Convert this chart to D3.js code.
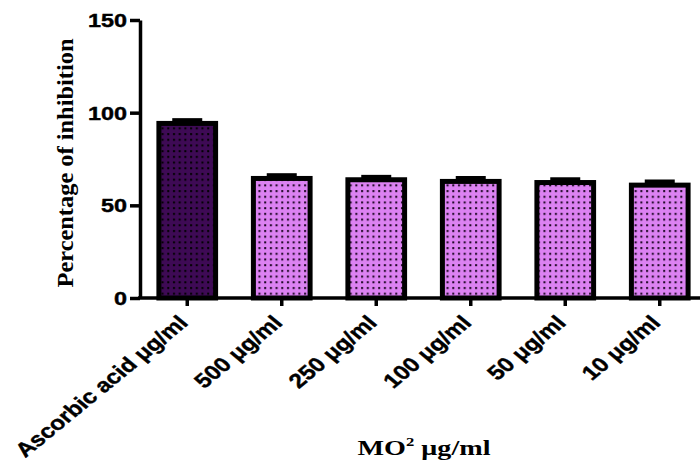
<!DOCTYPE html>
<html>
<head>
    <meta charset="utf-8">
    <style>
        body { margin: 0; background: #fff; }
        svg { display: block; }
    </style>
</head>
<body>
    <svg width="700" height="469"></svg>

    <script src="https://cdn.jsdelivr.net/npm/d3@7/dist/d3.min.js"></script>
    <script>

    var categories = ["Ascorbic acid \u03bcg/ml", "500 \u03bcg/ml", "250 \u03bcg/ml", "100 \u03bcg/ml", "50 \u03bcg/ml", "10 \u03bcg/ml"],
        values = [94.2, 64.5, 63.8, 62.9, 62.3, 60.9],
        errors = [1.9, 1.9, 1.7, 2.0, 1.9, 2.1],
        yTicks = [0, 50, 100, 150];

    var svg = d3.select("svg"),
        sx = 1.28; // the figure is stretched sideways

    var x = d3.scaleBand().domain(categories).range([140, 707]).paddingInner(0.4).paddingOuter(0.2),
        y = d3.scaleLinear().domain([0, 150]).range([298, 20]);

    // dotted fills
    var defs = svg.append("defs");
    [["dots-dark", "#3e0a55", "#000"], ["dots-pink", "#dc82f2", "#1a0520"]].forEach(function(p) {
        var pat = defs.append("pattern")
            .attr("id", p[0])
            .attr("patternUnits", "userSpaceOnUse")
            .attr("width", 5.7)
            .attr("height", 5.7);
        pat.append("rect").attr("width", 5.7).attr("height", 5.7).attr("fill", p[1]);
        pat.append("rect").attr("x", 2).attr("y", 2).attr("width", 2).attr("height", 2).attr("fill", p[2]);
    });

    // bars
    svg.append("g").selectAll("rect")
        .data(values)
        .join("rect")
        .attr("x", function(d, i) { return x(categories[i]); })
        .attr("width", x.bandwidth())
        .attr("y", function(d) { return y(d); })
        .attr("height", function(d) { return y(0) - y(d); })
        .attr("fill", function(d, i) { return i === 0 ? "url(#dots-dark)" : "url(#dots-pink)"; })
        .attr("stroke", "#000")
        .attr("stroke-width", 5);

    // error bars (upper only)
    var eb = svg.append("g").attr("stroke", "#000");
    eb.selectAll("line.v")
        .data(values)
        .join("line")
        .attr("class", "v")
        .attr("x1", function(d, i) { return x(categories[i]) + x.bandwidth() / 2; })
        .attr("x2", function(d, i) { return x(categories[i]) + x.bandwidth() / 2; })
        .attr("y1", function(d) { return y(d); })
        .attr("y2", function(d, i) { return y(d + errors[i]); })
        .attr("stroke-width", 3);
    eb.selectAll("line.cap")
        .data(values)
        .join("line")
        .attr("class", "cap")
        .attr("x1", function(d, i) { return x(categories[i]) + x.bandwidth() / 2 - 15; })
        .attr("x2", function(d, i) { return x(categories[i]) + x.bandwidth() / 2 + 15; })
        .attr("y1", function(d, i) { return y(d + errors[i]); })
        .attr("y2", function(d, i) { return y(d + errors[i]); })
        .attr("stroke-width", 3.5);

    // y axis
    var gy = svg.append("g")
        .attr("transform", "translate(140,0)")
        .call(d3.axisLeft(y).tickValues(yTicks).tickSize(10).tickSizeOuter(0));
    gy.selectAll("path, line").attr("stroke-width", 3.5);
    gy.selectAll("text")
        .attr("x", 0)
        .attr("dy", "0.36em")
        .attr("transform", "translate(-13,0) scale(1.3,1)")
        .style("font-family", "'Liberation Sans', Arial, sans-serif")
        .style("font-weight", "bold")
        .style("font-size", "18px")
        .style("stroke", "#000")
        .style("stroke-width", 0.4)
        .attr("fill", "#000");

    // x axis
    var gx = svg.append("g")
        .attr("transform", "translate(0," + y(0) + ")")
        .call(d3.axisBottom(x).tickSize(8).tickSizeOuter(0));
    gx.select(".domain").attr("d", "M138,0H700");
    gx.selectAll("path, line").attr("stroke-width", 3.5);
    gx.selectAll("text")
        .attr("x", 0)
        .attr("y", 0)
        .attr("dy", 0)
        .attr("text-anchor", "end")
        .attr("transform", "translate(2,26) scale(1.22,1) rotate(-45)")
        .style("font-family", "'Liberation Sans', Arial, sans-serif")
        .style("font-weight", "bold")
        .style("font-size", "20px")
        .style("stroke", "#000")
        .style("stroke-width", 0.4)
        .attr("fill", "#000");

    // axis titles
    svg.append("text")
        .attr("transform", "translate(73,163) rotate(-90)")
        .attr("text-anchor", "middle")
        .attr("textLength", 249)
        .attr("lengthAdjust", "spacingAndGlyphs")
        .style("font-family", "'Liberation Serif', 'Times New Roman', serif")
        .style("font-weight", "bold")
        .style("font-size", "23px")
        .text("Percentage of inhibition");

    var xt = svg.append("text")
        .attr("transform", "translate(424,455) scale(" + sx + ",1)")
        .attr("text-anchor", "middle")
        .style("font-family", "'Liberation Serif', 'Times New Roman', serif")
        .style("font-weight", "bold")
        .style("font-size", "22px");
    xt.append("tspan").text("MO");
    xt.append("tspan").attr("dy", -9).style("font-size", "13px").text("2");
    xt.append("tspan").attr("dy", 9).text(" \u03bcg/ml");

    </script>
</body>
</html>
